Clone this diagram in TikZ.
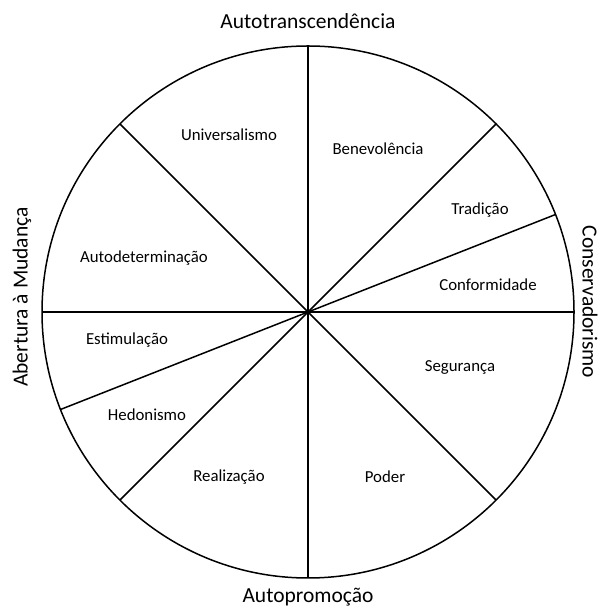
\documentclass[tikz,border=0pt]{standalone}
\usepackage{fontspec}
\setmainfont{Carlito}

\begin{document}
\begin{tikzpicture}[x=1pt,y=1pt, wheel/.style={line width=1.5pt}, value/.style={font=\fontsize{16.8}{20}\selectfont}, axis/.style={font=\fontsize{21.5}{25}\selectfont}]
      \useasboundingbox (0,0) rectangle (601,607);
      \coordinate (c) at (308,295);

      % rim points of the spokes
      \foreach \a/\n in {90/n, 270/s, 0/e, 180/w, 45/ne, 225/sw, 135/nw, 315/se, 21.5/ene, 201.5/wsw}
        \coordinate (\n) at ([shift={(\a:266)}]c);

      \draw[wheel] (c) circle[radius=266];
      \draw[wheel] (n) -- (s);
      \draw[wheel] (e) -- (w);
      \draw[wheel] (ne) -- (sw);
      \draw[wheel] (nw) -- (se);
      \draw[wheel] (ene) -- (wsw);

      \node[value] (univ) at (229,472) {Universalismo};
      \node[value] (bene) at (378,458) {Benevolência};
      \node[value] (trad) at (480,397) {Tradição};
      \node[value] (conf) at (488,322) {Conformidade};
      \node[value] (segu) at (460,240) {Segurança};
      \node[value] (pode) at (385,130) {Poder};
      \node[value] (real) at (229,130) {Realização};
      \node[value] (hedo) at (147,192) {Hedonismo};
      \node[value] (esti) at (127,267) {Estimulação};
      \node[value] (auto) at (144,349) {Autodeterminação};

      \node[axis] (top)    at (308,586) {Autotranscendência};
      \node[axis] (bottom) at (308,10) {Autopromoção};
      \node[axis, rotate=90]  (left)  at (22,310) {Abertura à Mudança};
      \node[axis, rotate=-90, inner sep=1pt] (right) at (590,305) {Conservadorismo};
    \end{tikzpicture}
\end{document}
